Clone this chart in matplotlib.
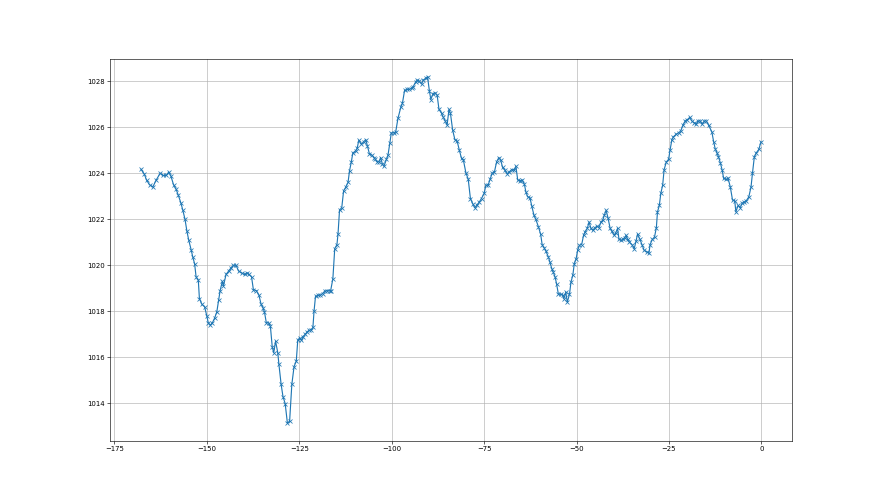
import matplotlib
matplotlib.use("Agg")
import matplotlib.pyplot as plt

# hours before now
hours = [
    -167.8, -166.9, -166.3, -165.5, -164.6, -163.7, -162.6, -161.9, -161.0, -160.3,
    -159.7, -159.0, -158.3, -157.7, -157.0, -156.5, -155.9, -155.4, -154.9, -154.2,
    -153.8, -153.3, -152.9, -152.3, -152.0, -151.3, -150.6, -150.0, -149.6, -149.1,
    -148.5, -147.9, -147.3, -146.8, -146.4, -145.8, -145.5, -144.8, -144.1, -143.4,
    -142.8, -142.1, -141.4, -140.6, -139.8, -139.2, -138.6,
    -137.9, -137.4, -136.6, -135.9, -135.3, -134.8, -134.4, -133.9, -133.3, -132.8,
    -132.3, -131.9, -131.4, -130.8, -130.5, -129.9, -129.4, -128.8, -128.2, -127.6,
    -127.0, -126.4, -125.8, -125.4, -124.9, -124.4, -124.0, -123.4, -122.9, -122.4,
    -121.7, -121.3, -121.0, -120.6, -119.9, -119.3, -118.7, -118.1, -117.5, -116.8,
    -116.5, -115.9,
    -115.4, -114.8, -114.5, -114.1, -113.5, -113.0, -112.4, -111.8, -111.4, -110.9,
    -110.5, -109.7, -109.3, -108.9, -108.2, -107.6, -107.0, -106.6, -106.0, -105.3,
    -104.8, -104.4, -104.0, -103.4, -103.0, -102.5, -102.1, -101.4, -101.0, -100.5,
    -100.1, -99.4, -98.9,
    -98.3, -97.5, -97.1, -96.5, -95.8, -95.3, -94.6, -94.2, -93.5, -93.1,
    -92.6, -91.9, -91.5, -90.8, -90.3, -89.8, -89.4, -88.8, -88.3, -87.7,
    -87.2, -86.5, -86.1, -85.5, -85.0, -84.5, -84.1, -83.5, -82.9, -82.3,
    -81.7, -81.1,
    -80.6, -79.9, -79.3, -78.7, -78.0, -77.5, -77.0, -76.3, -75.7, -75.0,
    -74.5, -73.9, -73.4, -72.8, -72.2, -71.6, -71.0, -70.5, -70.0, -69.4,
    -68.7, -68.2, -67.5, -66.9, -66.4, -65.9, -65.3, -64.7, -64.1, -63.7,
    -63.2, -62.6, -62.1, -61.5, -61.0, -60.3,
    -59.7, -59.3, -58.8, -58.3, -57.6, -57.2, -56.7, -56.3, -55.8, -55.4,
    -54.9, -54.3, -53.7, -53.4, -52.9, -52.5, -51.9, -51.5, -51.0, -50.6,
    -50.1, -49.7, -49.2, -48.6, -48.1, -47.7, -47.1, -46.6, -46.1, -45.6,
    -45.0, -44.4, -43.9, -43.4, -42.9, -42.5, -42.0, -41.5, -40.9, -40.5,
    -39.8, -39.4, -38.9, -38.5, -37.9, -37.5, -37.0, -36.6, -36.2, -35.7,
    -35.0, -34.4, -33.9, -33.5, -32.9,
    -32.3, -31.7, -31.0, -30.4, -30.1, -29.5, -28.9, -28.4, -28.1, -27.6,
    -27.2, -26.7, -26.3, -25.7, -25.1, -24.7, -24.2, -23.8, -23.0, -22.4,
    -21.8, -21.2, -20.6, -20.0, -19.4, -18.8, -18.2, -17.6, -17.2, -16.5,
    -16.1, -15.4, -14.9, -14.3,
    -13.4, -12.9, -12.5, -12.0, -11.6, -11.1, -10.6, -10.2, -9.6, -9.0,
    -8.4, -7.8, -7.2, -6.9, -6.3, -5.7, -5.2, -4.6, -4.1, -3.4,
    -2.8, -2.4, -1.9, -1.4, -0.7, -0.1,
]

# pressure readings (hPa)
pressure = [
    1024.17, 1023.96, 1023.7, 1023.5, 1023.4, 1023.7, 1024.0, 1023.9, 1023.9, 1024.05,
    1023.87, 1023.5, 1023.3, 1023.04, 1022.7, 1022.4, 1022.0, 1021.5, 1021.1, 1020.65,
    1020.36, 1020.07, 1019.5, 1019.35, 1018.55, 1018.3, 1018.2, 1017.8, 1017.5, 1017.4,
    1017.5, 1017.7, 1017.97, 1018.5, 1018.9, 1019.3, 1019.1, 1019.6, 1019.75, 1019.9,
    1020.0, 1020.0, 1019.75, 1019.67, 1019.6, 1019.67, 1019.6,
    1019.5, 1018.94, 1018.9, 1018.7, 1018.3, 1018.16, 1017.97, 1017.5, 1017.5, 1017.35,
    1016.45, 1016.2, 1016.7, 1016.2, 1015.7, 1014.83, 1014.3, 1013.99, 1013.14, 1013.23,
    1014.83, 1015.6, 1015.84, 1016.74, 1016.85, 1016.74, 1016.9, 1017.0, 1017.1, 1017.17,
    1017.2, 1017.3, 1018.0, 1018.65, 1018.7, 1018.7, 1018.77, 1018.88, 1018.9, 1018.88,
    1018.9, 1019.42,
    1020.72, 1020.9, 1021.38, 1022.4, 1022.5, 1023.23, 1023.4, 1023.6, 1024.1, 1024.5,
    1024.88, 1024.97, 1025.1, 1025.43, 1025.26, 1025.36, 1025.46, 1025.2, 1024.83, 1024.78,
    1024.68, 1024.6, 1024.5, 1024.5, 1024.68, 1024.4, 1024.3, 1024.6, 1024.78, 1025.3,
    1025.75, 1025.75, 1025.8,
    1026.38, 1026.88, 1027.03, 1027.6, 1027.64, 1027.64, 1027.68, 1027.75, 1027.97, 1028.04,
    1028.01, 1027.87, 1028.04, 1028.12, 1028.19, 1027.58, 1027.2, 1027.46, 1027.49, 1027.39,
    1026.77, 1026.6, 1026.45, 1026.27, 1026.09, 1026.77, 1026.6, 1025.87, 1025.46, 1025.4,
    1025.0, 1024.64,
    1024.57, 1024.0, 1023.75, 1022.9, 1022.65, 1022.5, 1022.6, 1022.75, 1022.9, 1023.12,
    1023.48, 1023.48, 1023.73, 1024.0, 1024.06, 1024.5, 1024.68, 1024.57, 1024.25, 1024.13,
    1023.96, 1024.06, 1024.16, 1024.13, 1024.3, 1023.7, 1023.67, 1023.7, 1023.52, 1023.19,
    1022.97, 1022.94, 1022.57, 1022.17, 1021.99, 1021.67,
    1021.35, 1020.9, 1020.77, 1020.62, 1020.36, 1020.14, 1019.86, 1019.71, 1019.49, 1019.2,
    1018.74, 1018.74, 1018.7, 1018.55, 1018.84, 1018.4, 1018.74, 1019.27, 1019.57, 1020.07,
    1020.29, 1020.65, 1020.87, 1020.9, 1021.3, 1021.45, 1021.6, 1021.88, 1021.6, 1021.52,
    1021.64, 1021.7, 1021.64, 1021.88, 1021.96, 1022.17, 1022.39, 1022.07, 1021.6, 1021.49,
    1021.3, 1021.4, 1021.6, 1021.12, 1021.09, 1021.12, 1021.2, 1021.3, 1021.12, 1021.01,
    1020.9, 1020.72, 1021.05, 1021.35, 1021.15,
    1020.9, 1020.65, 1020.58, 1020.54, 1020.9, 1021.12, 1021.23, 1021.64, 1022.32, 1022.6,
    1023.12, 1023.48, 1024.16, 1024.49, 1024.6, 1025.0, 1025.46, 1025.58, 1025.7, 1025.75,
    1025.84, 1026.09, 1026.27, 1026.33, 1026.42, 1026.27, 1026.19, 1026.13, 1026.27, 1026.27,
    1026.13, 1026.27, 1026.27, 1026.09,
    1025.8, 1025.36, 1025.07, 1024.88, 1024.71, 1024.45, 1024.13, 1023.77, 1023.73, 1023.77,
    1023.4, 1022.83, 1022.8, 1022.32, 1022.6, 1022.5, 1022.7, 1022.75, 1022.8, 1022.97,
    1023.4, 1024.01, 1024.71, 1024.88, 1025.03, 1025.36,
]

plt.rcParams['font.size'] = 9
fig, ax = plt.subplots(figsize=(16, 9), dpi=55)
ax.plot(hours, pressure, marker='x', linewidth=1.5, markersize=6)
ax.grid(True)

fig.savefig("out.png", dpi=55)
